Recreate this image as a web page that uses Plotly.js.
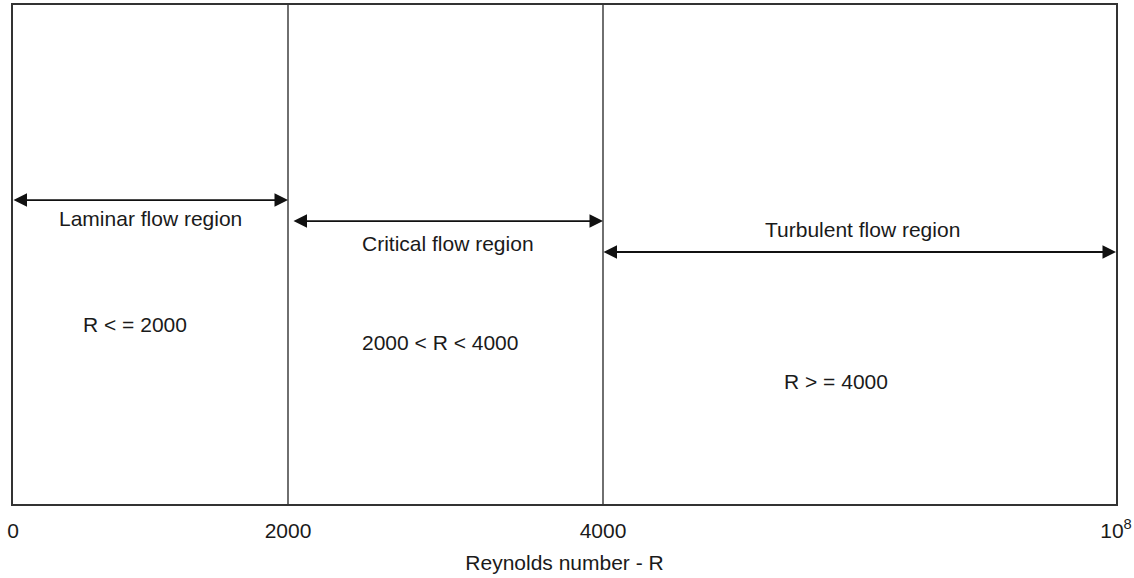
<!DOCTYPE html>
<html>
<head>
<meta charset="utf-8">
<script src="https://cdn.plot.ly/plotly-3.0.1.min.js"></script>
<style>html,body{margin:0;padding:0;background:#fff;}#chart{width:1134px;height:578px;}</style>
</head>
<body>
<div id="chart"></div>
<script>
// Boundary Reynolds numbers and their place on the schematic (not-to-scale) axis
const boundaryValues = [0, 2000, 4000, 1e8];
const boundaryTickText = ['0', '2000', '4000', '10<sup>8</sup>'];
const boundaryPos = [0, 2.75, 5.9, 11.03];

// Regions
const regionNames = ['Laminar flow region', 'Critical flow region', 'Turbulent flow region'];
const regionRules = ['R < = 2000', '2000 < R < 4000', 'R > = 4000'];
const regionStart = [0, 1, 2];   // index into boundaryPos
const regionEnd = [1, 2, 3];
const arrowLevel = [0.609, 0.567, 0.505];
const arrowStartInset = [0, 0.05, 0];
const nameLevel = [0.573, 0.523, 0.551];
const nameX = [1.37, 4.35, 8.49];
const ruleLevel = [0.359, 0.323, 0.246];
const ruleX = [1.22, 4.27, 8.23];

const FONT = '"Liberation Sans", Arial, Helvetica, sans-serif';
const TXT = '#1a1a1a';
const LINE = '#333333';

const annotations = [];
for (let i = 0; i < regionNames.length; i++) {
  const x0 = boundaryPos[regionStart[i]] + arrowStartInset[i];
  const x1 = boundaryPos[regionEnd[i]];
  annotations.push({
    x: x1, y: arrowLevel[i], ax: x0, ay: arrowLevel[i],
    xref: 'x', yref: 'y', axref: 'x', ayref: 'y',
    text: '', showarrow: true, arrowside: 'end+start',
    arrowhead: 2, arrowsize: 1.5, arrowwidth: 1.8, arrowcolor: '#111',
    standoff: 0, startstandoff: 0, borderpad: 0
  });
  annotations.push({
    x: nameX[i], y: nameLevel[i], xref: 'x', yref: 'y',
    text: regionNames[i], showarrow: false,
    font: {family: FONT, size: 21, color: TXT}
  });
  annotations.push({
    x: ruleX[i], y: ruleLevel[i], xref: 'x', yref: 'y',
    text: regionRules[i], showarrow: false,
    font: {family: FONT, size: 21, color: TXT}
  });
}

const shapes = [];
for (let k = 1; k < boundaryPos.length - 1; k++) {
  shapes.push({
    type: 'line', xref: 'x', yref: 'y',
    x0: boundaryPos[k], x1: boundaryPos[k], y0: 0, y1: 1,
    line: {color: LINE, width: 1.4}
  });
}

const data = [{
  x: boundaryPos, y: boundaryPos.map(() => null),
  type: 'scatter', mode: 'lines', hoverinfo: 'skip', showlegend: false,
  customdata: boundaryValues
}];

const layout = {
  width: 1134, height: 578,
  margin: {l: 13, r: 18, t: 5, b: 74},
  paper_bgcolor: '#fff', plot_bgcolor: '#fff',
  font: {family: FONT, size: 21, color: TXT},
  showlegend: false,
  xaxis: {
    range: [boundaryPos[0], boundaryPos[3]],
    tickmode: 'array', tickvals: boundaryPos, ticktext: boundaryTickText,
    ticks: '', showgrid: false, zeroline: false,
    showline: true, mirror: true, linecolor: LINE, linewidth: 1.6,
    tickfont: {family: FONT, size: 21, color: TXT},
    ticklabelstandoff: 7,
    title: {text: 'Reynolds number - R', font: {family: FONT, size: 21, color: TXT}, standoff: 14},
    automargin: false, fixedrange: true
  },
  yaxis: {
    range: [0, 1], showticklabels: false, ticks: '', showgrid: false, zeroline: false,
    showline: true, mirror: true, linecolor: LINE, linewidth: 1.6,
    automargin: false, fixedrange: true
  },
  shapes: shapes,
  annotations: annotations
};

Plotly.newPlot('chart', data, layout, {staticPlot: true, displayModeBar: false});
</script>
</body>
</html>
